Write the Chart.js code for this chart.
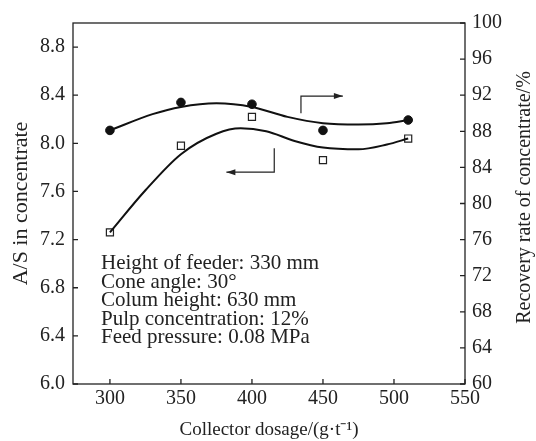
<!DOCTYPE html>
<html>
<head>
<meta charset="utf-8">
<script src="https://cdn.jsdelivr.net/npm/chart.js@4"></script>
<style>
  html, body { margin: 0; padding: 0; background: #fff; }
  #wrap { width: 536px; height: 441px; }
</style>
</head>
<body>
<div id="wrap"><canvas id="myChart" width="536" height="441"></canvas></div>
<script>
// measured points
const dosage = [300, 350, 400, 450, 510];
const asRatio = [7.26, 7.98, 8.22, 7.86, 8.04];
const recovery = [88.1, 91.2, 91.0, 88.1, 89.25];

// fitted curves
const asCurveX = [300, 325, 350, 375, 392, 410, 430, 450, 475, 495, 510];
const asCurveY = [7.26, 7.61, 7.91, 8.08, 8.125, 8.10, 8.02, 7.965, 7.95, 7.99, 8.04];
const recCurveX = [300, 330, 350, 375, 400, 425, 450, 475, 495, 510];
const recCurveY = [88.1, 89.9, 90.7, 91.1, 90.7, 89.6, 88.9, 88.75, 88.9, 89.25];

const xTicks = [300, 350, 400, 450, 500, 550];
const leftTicks = [6.0, 6.4, 6.8, 7.2, 7.6, 8.0, 8.4, 8.8];
const rightTicks = [60, 64, 68, 72, 76, 80, 84, 88, 92, 96, 100];

// arrow polylines: [x, y] in data units
const arrowRight = [[434.5, 90.0], [434.5, 91.9], [464, 91.9]];   // right axis
const arrowLeft = [[415.7, 7.96], [415.7, 7.76], [382, 7.76]];    // left axis

const noteLines = [
  'Height of feeder: 330 mm',
  'Cone angle: 30\u00B0',
  'Colum height: 630 mm',
  'Pulp concentration: 12%',
  'Feed pressure: 0.08 MPa'
];
const rightTitle = 'Recovery rate of concentrate/%';

const serif = 'Liberation Serif, Times New Roman, serif';

function toXY(xs, ys) {
  return xs.map((x, i) => ({ x: x, y: ys[i] }));
}

const framePlugin = {
  id: 'frame',
  afterDatasetsDraw(chart) {
    const ctx = chart.ctx;
    const a = chart.chartArea;
    const sx = chart.scales.x, sl = chart.scales.yL, sr = chart.scales.yR;
    ctx.save();
    ctx.strokeStyle = '#222';
    ctx.lineWidth = 1.3;
    ctx.strokeRect(a.left, a.top, a.right - a.left, a.bottom - a.top);
    ctx.beginPath();
    for (const t of xTicks) {
      const px = sx.getPixelForValue(t);
      ctx.moveTo(px, a.bottom); ctx.lineTo(px, a.bottom - 5);
    }
    for (const t of leftTicks) {
      const py = sl.getPixelForValue(t);
      ctx.moveTo(a.left, py); ctx.lineTo(a.left + 5, py);
    }
    for (const t of rightTicks) {
      const py = sr.getPixelForValue(t);
      ctx.moveTo(a.right, py); ctx.lineTo(a.right - 5, py);
    }
    ctx.stroke();

    // arrows
    function arrow(pts, yScale) {
      const p = pts.map(q => [sx.getPixelForValue(q[0]), yScale.getPixelForValue(q[1])]);
      ctx.beginPath();
      ctx.lineWidth = 1.2;
      ctx.moveTo(p[0][0], p[0][1]);
      for (let i = 1; i < p.length; i++) ctx.lineTo(p[i][0], p[i][1]);
      ctx.stroke();
      const e = p[p.length - 1], s = p[p.length - 2];
      const dir = Math.sign(e[0] - s[0]);
      ctx.beginPath();
      ctx.moveTo(e[0], e[1]);
      ctx.lineTo(e[0] - dir * 9, e[1] - 3);
      ctx.lineTo(e[0] - dir * 9, e[1] + 3);
      ctx.closePath();
      ctx.fillStyle = '#222';
      ctx.fill();
    }
    arrow(arrowRight, sr);
    arrow(arrowLeft, sl);

    // condition notes
    ctx.fillStyle = '#222';
    ctx.font = '21px ' + serif;
    ctx.textBaseline = 'alphabetic';
    ctx.textAlign = 'left';
    noteLines.forEach((line, i) => {
      ctx.fillText(line, 101, 269 + i * 18.6);
    });

    // right axis title, reads bottom to top
    ctx.font = '20px ' + serif;
    ctx.textAlign = 'center';
    ctx.textBaseline = 'middle';
    ctx.translate(525, (a.top + a.bottom) / 2 - 6);
    ctx.rotate(-Math.PI / 2);
    ctx.fillText(rightTitle, 0, 0);
    ctx.restore();
  }
};

const config = {
  type: 'line',
  data: {
    datasets: [
      {
        data: toXY(recCurveX, recCurveY), yAxisID: 'yR',
        borderColor: '#111', borderWidth: 2, pointRadius: 0,
        cubicInterpolationMode: 'monotone', fill: false
      },
      {
        data: toXY(asCurveX, asCurveY), yAxisID: 'yL',
        borderColor: '#111', borderWidth: 2, pointRadius: 0,
        cubicInterpolationMode: 'monotone', fill: false
      },
      {
        data: toXY(dosage, recovery), yAxisID: 'yR', showLine: false,
        pointStyle: 'circle', pointRadius: 4.3, pointBackgroundColor: '#111',
        pointBorderColor: '#111', pointBorderWidth: 1
      },
      {
        data: toXY(dosage, asRatio), yAxisID: 'yL', showLine: false,
        pointStyle: 'rect', pointRadius: 5, pointBackgroundColor: '#fff',
        pointBorderColor: '#222', pointBorderWidth: 1.2
      }
    ]
  },
  options: {
    responsive: false,
    animation: false,
    layout: { padding: { top: 23, left: 0, right: 0, bottom: 0 } },
    plugins: { legend: { display: false }, tooltip: { enabled: false } },
    scales: {
      x: {
        type: 'linear', min: 274, max: 550,
        afterBuildTicks: (s) => { s.ticks = xTicks.map(v => ({ value: v })); },
        afterFit: (s) => { s.height = 57; },
        grid: { display: false, drawTicks: false },
        border: { display: false },
        ticks: { color: '#222', font: { family: serif, size: 20 }, padding: 3, maxRotation: 0 },
        title: {
          display: true, text: 'Collector dosage/(g\u00B7t\u207B\u00B9)',
          color: '#222', font: { family: serif, size: 19 }, padding: { top: 0, bottom: 0 }
        }
      },
      yL: {
        position: 'left', min: 6.0, max: 9.0,
        afterBuildTicks: (s) => { s.ticks = leftTicks.map(v => ({ value: v })); },
        afterFit: (s) => { s.width = 73; },
        grid: { display: false, drawTicks: false },
        border: { display: false },
        ticks: { color: '#222', font: { family: serif, size: 20 }, padding: 8,
          callback: (v) => v.toFixed(1) },
        title: {
          display: true, text: 'A/S in concentrate',
          color: '#222', font: { family: serif, size: 22 }, padding: { top: 8, bottom: 0 }
        }
      },
      yR: {
        position: 'right', min: 60, max: 100,
        afterBuildTicks: (s) => { s.ticks = rightTicks.map(v => ({ value: v })); },
        afterFit: (s) => { s.width = 71; },
        grid: { display: false, drawTicks: false },
        border: { display: false },
        ticks: { color: '#222', font: { family: serif, size: 20 }, padding: 7 }
      }
    }
  },
  plugins: [framePlugin]
};

const myChart = new Chart(document.getElementById('myChart'), config);
</script>
</body>
</html>
